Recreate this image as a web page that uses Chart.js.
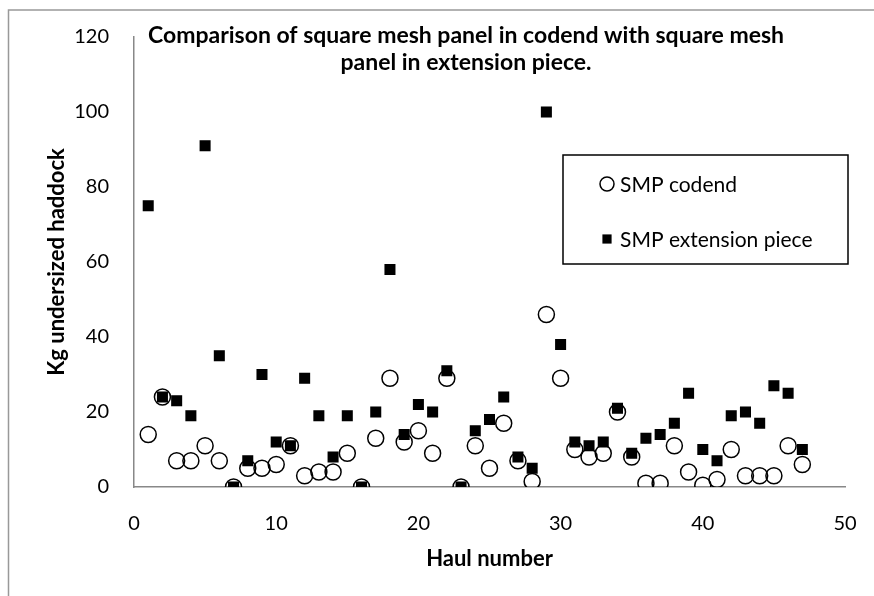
<!DOCTYPE html>
<html>
<head>
<meta charset="utf-8">
<script src="https://cdn.jsdelivr.net/npm/chart.js@4.4.0/dist/chart.umd.min.js"></script>
<style>
  html, body { margin: 0; padding: 0; background: #fff; }
  #wrap { width: 874px; height: 596px; }
</style>
</head>
<body>
<div id="wrap"><canvas id="myChart" width="874" height="596"></canvas></div>
<script>
// haul numbers and the two catches (kg undersized haddock)
const hauls = [1, 2, 3, 4, 5, 6, 7, 8, 9, 10, 11, 12, 13, 14, 15, 16, 17, 18, 19, 20, 21, 22, 23, 24,
  25, 26, 27, 28, 29, 30, 31, 32, 33, 34, 35, 36, 37, 38, 39, 40, 41, 42, 43, 44, 45, 46, 47];
const codend = [14, 24, 7, 7, 11, 7, 0, 5, 5, 6, 11, 3, 4, 4, 9, 0, 13, 29, 12, 15, 9, 29, 0, 11,
  5, 17, 7, 1.5, 46, 29, 10, 8, 9, 20, 8, 1, 1, 11, 4, 0.5, 2, 10, 3, 3, 3, 11, 6];
const extension = [75, 24, 23, 19, 91, 35, 0, 7, 30, 12, 11, 29, 19, 8, 19, 0, 20, 58, 14, 22, 20, 31, 0, 15,
  18, 24, 8, 5, 100, 38, 12, 11, 12, 21, 9, 13, 14, 17, 25, 10, 7, 19, 20, 17, 27, 25, 10];
const seriesNames = ['SMP codend', 'SMP extension piece'];
const titleLines = ['Comparison of square mesh panel in codend with square mesh', 'panel in extension piece.'];
const xTicks = [0, 10, 20, 30, 40, 50];
const yTicks = [0, 20, 40, 60, 80, 100, 120];

const FONT = 'Lato, "Open Sans", sans-serif';

function pts(ys) {
    return hauls.map((h, i) => ({ x: h, y: ys[i] }));
}

// frame around the whole chart (only top and left show in the picture)
const framePlugin = {
    id: 'frame',
    beforeDraw(chart) {
        const ctx = chart.ctx;
        ctx.save();
        ctx.strokeStyle = '#999';
        ctx.lineWidth = 1.5;
        ctx.beginPath();
        ctx.moveTo(8.5, chart.height + 2);
        ctx.lineTo(8.5, 10);
        ctx.lineTo(chart.width + 2, 10);
        ctx.stroke();
        ctx.restore();
    }
};

// two-line title inside the plot
const titlePlugin = {
    id: 'insideTitle',
    afterDraw(chart) {
        const ctx = chart.ctx;
        ctx.save();
        ctx.fillStyle = '#000';
        ctx.font = 'bold 23px ' + FONT;
        ctx.textAlign = 'center';
        ctx.textBaseline = 'middle';
        ctx.fillText(titleLines[0], 466, 36);
        ctx.fillText(titleLines[1], 466, 63);
        ctx.restore();
    }
};

// boxed legend drawn inside the plot
const boxLegend = {
    id: 'boxLegend',
    afterDraw(chart) {
        const ctx = chart.ctx;
        ctx.save();
        ctx.strokeStyle = '#000';
        ctx.lineWidth = 1.5;
        ctx.strokeRect(563, 155, 285, 109);
        const rows = [184, 239];
        chart.data.datasets.forEach((ds, i) => {
            ctx.fillStyle = ds.backgroundColor;
            ctx.strokeStyle = ds.borderColor;
            ctx.lineWidth = ds.borderWidth;
            Chart.helpers.drawPoint(ctx, {
                pointStyle: ds.pointStyle,
                radius: ds.pointStyle === 'circle' ? 7 : 6.5,
                borderWidth: ds.borderWidth
            }, 607, rows[i]);
            ctx.fillStyle = '#000';
            ctx.font = '21px ' + FONT;
            ctx.textAlign = 'left';
            ctx.textBaseline = 'middle';
            ctx.fillText(ds.label, 620, rows[i] + 1);
        });
        ctx.restore();
    }
};

const data = {
    datasets: [
        {
            label: seriesNames[0],
            data: pts(codend),
            pointStyle: 'circle',
            pointRadius: 8,
            pointHoverRadius: 8,
            backgroundColor: 'rgba(0,0,0,0)',
            borderColor: '#000',
            borderWidth: 1.5,
            order: 2
        },
        {
            label: seriesNames[1],
            data: pts(extension),
            pointStyle: 'rect',
            pointRadius: 7.8,
            pointHoverRadius: 7.8,
            backgroundColor: '#000',
            borderColor: '#000',
            borderWidth: 0,
            order: 1
        }
    ]
};

const config = {
    type: 'scatter',
    data: data,
    plugins: [framePlugin, titlePlugin, boxLegend],
    options: {
        responsive: false,
        animation: false,
        layout: { padding: { top: 37, right: 29, left: 0, bottom: 0 } },
        plugins: {
            legend: { display: false },
            tooltip: { enabled: false }
        },
        scales: {
            x: {
                type: 'linear',
                min: xTicks[0],
                max: xTicks[xTicks.length - 1],
                afterFit: function (scale) { scale.height = 109; },
                afterBuildTicks: function (scale) { scale.ticks = xTicks.map(v => ({ value: v })); },
                grid: { display: false },
                border: { display: true, color: '#888', width: 1.5 },
                ticks: { color: '#000', padding: 17, font: { family: FONT, size: 20 } },
                title: {
                    display: true,
                    text: 'Haul number',
                    color: '#000',
                    font: { family: FONT, size: 22, weight: 'bold' },
                    padding: { top: 0, bottom: 24 }
                }
            },
            y: {
                type: 'linear',
                min: yTicks[0],
                max: yTicks[yTicks.length - 1],
                afterFit: function (scale) { scale.width = 134; },
                afterBuildTicks: function (scale) { scale.ticks = yTicks.map(v => ({ value: v })); },
                grid: { display: false },
                border: { display: true, color: '#888', width: 1.5 },
                ticks: { color: '#000', padding: 17, font: { family: FONT, size: 20 } },
                title: {
                    display: true,
                    text: 'Kg undersized haddock',
                    color: '#000',
                    font: { family: FONT, size: 22, weight: 'bold' },
                    padding: { top: 44, bottom: 0 }
                }
            }
        }
    }
};

var myChart = new Chart(document.getElementById('myChart'), config);
</script>
</body>
</html>
